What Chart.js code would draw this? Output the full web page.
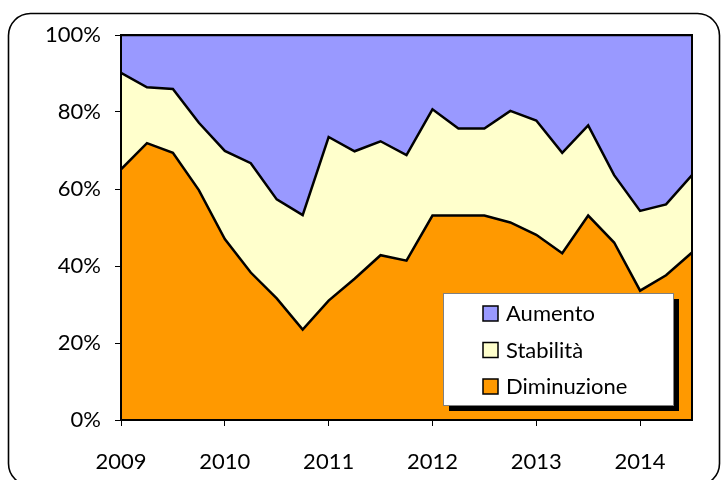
<!DOCTYPE html>
<html>
<head>
<meta charset="utf-8">
<script src="https://cdn.jsdelivr.net/npm/chart.js@4/dist/chart.umd.min.js"></script>
<style>
  html, body { margin: 0; padding: 0; background: #fff; }
  #wrap { width: 723px; height: 480px; }
</style>
</head>
<body>
<div id="wrap"><canvas id="areaChart" width="723" height="480"></canvas></div>
<script>
// quarters, 2009 Q1 .. 2014 Q3
const periods = [2009, 2009.25, 2009.5, 2009.75, 2010, 2010.25, 2010.5, 2010.75,
  2011, 2011.25, 2011.5, 2011.75, 2012, 2012.25, 2012.5, 2012.75,
  2013, 2013.25, 2013.5, 2013.75, 2014, 2014.25, 2014.5];
const yearTicks = [2009, 2010, 2011, 2012, 2013, 2014];
const pctTicks = [0, 20, 40, 60, 80, 100];

const diminuzione = [65.1, 71.9, 69.4, 59.7, 47.0, 38.3, 31.6, 23.5, 31.0, 36.7, 42.8, 41.4,
  53.1, 53.1, 53.1, 51.3, 48.1, 43.3, 53.1, 46.1, 33.6, 37.6, 43.5];
const stabilita = [25.1, 14.5, 16.6, 17.5, 22.9, 28.4, 25.7, 29.7, 42.5, 33.1, 29.6, 27.4,
  27.6, 22.6, 22.6, 29.0, 29.7, 26.1, 23.4, 17.5, 20.7, 18.4, 20.1];
const aumento = [9.8, 13.6, 14.0, 22.8, 30.1, 33.3, 42.7, 46.8, 26.5, 30.2, 27.6, 31.2,
  19.3, 24.3, 24.3, 19.7, 22.2, 30.6, 23.5, 36.4, 45.7, 44.0, 36.4];

const FONT = 'Lato, "DejaVu Sans", sans-serif';

const toPoints = (arr) => arr.map((v, i) => ({ x: periods[i], y: v }));

// rounded frame + plot border
const framePlugin = {
  id: 'frame',
  afterDatasetsDraw(chart) {
    const ctx = chart.ctx;
    const a = chart.chartArea;
    ctx.save();
    ctx.strokeStyle = '#000';
    ctx.lineWidth = 2;
    ctx.strokeRect(a.left, a.top, a.right - a.left, a.bottom - a.top);
    ctx.restore();
  },
  afterDraw(chart) {
    const ctx = chart.ctx;
    ctx.save();
    ctx.strokeStyle = '#000';
    ctx.lineWidth = 1.6;
    ctx.beginPath();
    ctx.roundRect(8.5, 13.5, 711, 472, 22);
    ctx.stroke();
    ctx.restore();
  }
};

// legend box with shadow, drawn by hand
const boxLegend = {
  id: 'boxLegend',
  afterDraw(chart, args, opts) {
    const ctx = chart.ctx;
    const x = opts.x, y = opts.y, w = opts.w, h = opts.h;
    ctx.save();
    ctx.fillStyle = '#000';
    ctx.fillRect(x + 6, y + 6, w, h);
    ctx.fillStyle = '#fff';
    ctx.fillRect(x, y, w, h);
    ctx.strokeStyle = '#808080';
    ctx.lineWidth = 1;
    ctx.strokeRect(x + 0.5, y + 0.5, w, h);
    // top to bottom: reversed dataset order
    const ds = chart.data.datasets.slice().reverse();
    ds.forEach((d, i) => {
      const cy = y + 20 + i * 36.5;
      ctx.fillStyle = d.backgroundColor;
      ctx.fillRect(x + 40, cy - 7, 15, 15);
      ctx.strokeStyle = '#000';
      ctx.lineWidth = 1.5;
      ctx.strokeRect(x + 40, cy - 7, 15, 15);
      ctx.fillStyle = '#000';
      ctx.font = '22px ' + FONT;
      ctx.textBaseline = 'middle';
      ctx.fillText(d.label, x + 63, cy + 1);
    });
    ctx.restore();
  }
};

const config = {
  type: 'line',
  data: {
    datasets: [
      { label: 'Diminuzione', data: toPoints(diminuzione), backgroundColor: '#FF9900',
        borderColor: '#000', borderWidth: 2.5, fill: 'origin' },
      { label: 'Stabilità', data: toPoints(stabilita), backgroundColor: '#FFFFCC',
        borderColor: '#000', borderWidth: 2.5, fill: '-1' },
      { label: 'Aumento', data: toPoints(aumento), backgroundColor: '#9999FF',
        borderColor: '#000', borderWidth: 2.5, fill: '-1' }
    ]
  },
  options: {
    responsive: false,
    animation: false,
    layout: { padding: { left: 0, top: 35, right: 31, bottom: 0 } },
    elements: { point: { radius: 0 }, line: { tension: 0 } },
    scales: {
      x: {
        type: 'linear',
        min: 2009,
        max: 2014.5,
        afterBuildTicks: (s) => { s.ticks = yearTicks.map(v => ({ value: v })); },
        afterFit: (s) => { s.height = 60; },
        ticks: { font: { family: FONT, size: 22 }, color: '#000', padding: 23,
          callback: (v) => String(v) },
        grid: { drawOnChartArea: false, tickLength: 6, color: '#000', lineWidth: 1 },
        border: { color: '#000', width: 2 }
      },
      y: {
        stacked: true,
        min: 0,
        max: 100,
        afterBuildTicks: (s) => { s.ticks = pctTicks.map(v => ({ value: v })); },
        afterFit: (s) => { s.width = 121; },
        ticks: { font: { family: FONT, size: 22 }, color: '#000', padding: 14,
          callback: (v) => v + '%' },
        grid: { drawOnChartArea: false, tickLength: 6, color: '#000', lineWidth: 1 },
        border: { color: '#000', width: 2 }
      }
    },
    plugins: {
      legend: { display: false },
      tooltip: { enabled: false },
      boxLegend: { x: 443, y: 293, w: 230, h: 112 }
    }
  },
  plugins: [framePlugin, boxLegend]
};

new Chart(document.getElementById('areaChart'), config);
</script>
</body>
</html>
